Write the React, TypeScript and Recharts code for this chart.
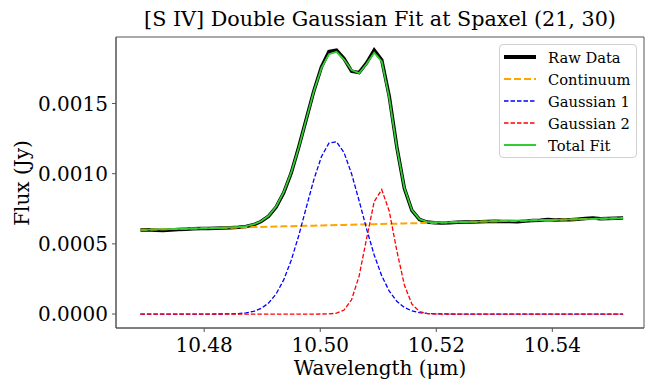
import { LineChart, Line, XAxis, YAxis, Legend, ReferenceArea } from 'recharts';

const wavelength = [
  10.469, 10.4703, 10.4716, 10.4729, 10.4742, 10.4755, 10.4768, 10.4781, 10.4794, 10.4807,
  10.482, 10.4833, 10.4846, 10.4859, 10.4872, 10.4885, 10.4898, 10.4911, 10.4924, 10.4937,
  10.495, 10.4963, 10.4976, 10.4989, 10.5002, 10.5015, 10.5028, 10.5041, 10.5054, 10.5067,
  10.508, 10.5093, 10.5106, 10.5119, 10.5132, 10.5145, 10.5158, 10.5171, 10.5184, 10.5197,
  10.521, 10.5223, 10.5236, 10.5249, 10.5262, 10.5275, 10.5288, 10.5301, 10.5314, 10.5327,
  10.534, 10.5353, 10.5366, 10.5379, 10.5392, 10.5405, 10.5418, 10.5431, 10.5444, 10.5457,
  10.547, 10.5483, 10.5496, 10.5509, 10.5522,
];

const rawFlux = [
  0.000598, 0.0006, 0.000597, 0.000595, 0.000598, 0.000603, 0.000605, 0.000607, 0.000609, 0.00061,
  0.000611, 0.000613, 0.000614, 0.000618, 0.000624, 0.000636, 0.000659, 0.000697, 0.000762, 0.000864,
  0.001005, 0.00119, 0.00139, 0.00159, 0.00176, 0.00187, 0.00188, 0.00182, 0.00173, 0.00172,
  0.00179, 0.00188, 0.00181, 0.00155, 0.00119, 0.000895, 0.000738, 0.000674, 0.000655, 0.000651,
  0.000649, 0.000651, 0.000654, 0.000656, 0.000656, 0.000658, 0.00066, 0.000661, 0.00066, 0.000659,
  0.000657, 0.000662, 0.000666, 0.000669, 0.000674, 0.00067, 0.000672, 0.000672, 0.000676, 0.00068,
  0.000685, 0.000679, 0.000681, 0.000683, 0.000684,
];

const continuum = [
  0.0006, 0.0006013, 0.0006026, 0.0006039, 0.0006052, 0.0006065, 0.0006078, 0.0006091, 0.0006104, 0.0006117,
  0.000613, 0.0006143, 0.0006156, 0.0006169, 0.0006182, 0.0006195, 0.0006208, 0.0006221, 0.0006234, 0.0006247,
  0.000626, 0.0006273, 0.0006286, 0.0006299, 0.0006312, 0.0006325, 0.0006338, 0.0006351, 0.0006364, 0.0006377,
  0.000639, 0.0006403, 0.0006416, 0.0006429, 0.0006442, 0.0006455, 0.0006468, 0.0006481, 0.0006494, 0.0006507,
  0.000652, 0.0006533, 0.0006546, 0.0006559, 0.0006572, 0.0006585, 0.0006598, 0.0006611, 0.0006624, 0.0006637,
  0.000665, 0.0006663, 0.0006676, 0.0006689, 0.0006702, 0.0006715, 0.0006728, 0.0006741, 0.0006754, 0.0006767,
  0.000678, 0.0006793, 0.0006806, 0.0006819, 0.0006832,
];

const gaussian1 = [
  0, 0, 0, 0, 0, 0, 0, 0, 0, 0,
  0.0000001, 0.0000004, 0.0000013, 0.0000033, 0.0000082, 0.0000188, 0.0000398, 0.0000784, 0.0001433, 0.0002431,
  0.0003829, 0.0005599, 0.0007601, 0.000958, 0.0011209, 0.0012178, 0.0012282, 0.0011501, 0.0009999, 0.0008071,
  0.0006048, 0.0004207, 0.0002718, 0.000163, 0.0000907, 0.0000469, 0.0000225, 0.00001, 0.0000041, 0.0000016,
  0.0000006, 0.0000002, 0, 0, 0, 0, 0, 0, 0, 0,
  0, 0, 0, 0, 0, 0, 0, 0, 0, 0,
  0, 0, 0, 0, 0,
];

const gaussian2 = [
  0, 0, 0, 0, 0, 0, 0, 0, 0, 0,
  0, 0, 0, 0, 0, 0, 0, 0, 0, 0,
  0, 0, 0, 0, 0.0000001, 0.0000009, 0.0000059, 0.0000284, 0.0001016, 0.0002712,
  0.0005398, 0.0008013, 0.0008869, 0.0007321, 0.0004506, 0.0002069, 0.0000708, 0.0000181, 0.0000034, 0.0000005,
  0, 0, 0, 0, 0, 0, 0, 0, 0, 0,
  0, 0, 0, 0, 0, 0, 0, 0, 0, 0,
  0, 0, 0, 0, 0,
];

const totalFit = [
  0.0006, 0.0006013, 0.0006026, 0.0006039, 0.0006052, 0.0006065, 0.0006078, 0.0006091, 0.0006104, 0.0006117,
  0.0006131, 0.0006147, 0.0006169, 0.0006202, 0.0006264, 0.0006383, 0.0006606, 0.0007005, 0.0007667, 0.0008678,
  0.0010089, 0.0011872, 0.0013887, 0.0015879, 0.0017522, 0.0018512, 0.0018679, 0.0018136, 0.0017379, 0.001716,
  0.0017836, 0.0018623, 0.0018003, 0.001538, 0.0011855, 0.0008993, 0.0007401, 0.0006762, 0.0006569, 0.0006528,
  0.0006526, 0.0006535, 0.0006546, 0.0006559, 0.0006572, 0.0006585, 0.0006598, 0.0006611, 0.0006624, 0.0006637,
  0.000665, 0.0006663, 0.0006676, 0.0006689, 0.0006702, 0.0006715, 0.0006728, 0.0006741, 0.0006754, 0.0006767,
  0.000678, 0.0006793, 0.0006806, 0.0006819, 0.0006832,
];

const xTicks = [10.48, 10.5, 10.52, 10.54];
const yTicks = [0, 0.0005, 0.001, 0.0015];
const xDomain = [10.4648, 10.5558];
const yDomain = [-0.0000995, 0.001974];

const data = wavelength.map((x, i) => ({
  x,
  raw: rawFlux[i],
  cont: continuum[i],
  g1: gaussian1[i],
  g2: gaussian2[i],
  total: totalFit[i],
}));

const FONT = '"DejaVu Serif", serif';
const SPINE = '#555';

const legendItems = [
  { label: 'Raw Data', color: '#000000', width: 4, dash: undefined },
  { label: 'Continuum', color: '#FFA500', width: 2, dash: '7 3' },
  { label: 'Gaussian 1', color: '#0000FF', width: 1.4, dash: '4.5 2' },
  { label: 'Gaussian 2', color: '#FF0000', width: 1.4, dash: '4.5 2' },
  { label: 'Total Fit', color: '#32CD32', width: 2, dash: undefined },
];

const FitLegend = () => (
  <div
    style={{
      width: 138,
      height: 114,
      boxSizing: 'border-box',
      border: '1px solid #d0d0d0',
      borderRadius: 4,
      background: 'rgba(255,255,255,0.8)',
      paddingTop: 1,
      fontFamily: FONT,
      fontSize: 14.7,
      color: '#000',
    }}
  >
    {legendItems.map((it) => (
      <div key={it.label} style={{ display: 'flex', alignItems: 'center', height: 22 }}>
        <svg width={44} height={22} style={{ marginLeft: 4, flex: 'none' }}>
          <line
            x1={0}
            x2={32}
            y1={11}
            y2={11}
            stroke={it.color}
            strokeWidth={it.width}
            strokeDasharray={it.dash}
          />
        </svg>
        <span style={{ whiteSpace: 'nowrap' }}>{it.label}</span>
      </div>
    ))}
  </div>
);

export default function App() {
  return (
    <div style={{ position: 'absolute', left: 0, top: 0, width: 646, height: 380, background: '#fff' }}>
      <LineChart
        width={646}
        height={380}
        data={data}
        margin={{ top: 37, right: 2, bottom: 7, left: 0 }}
      >
        <XAxis
          dataKey="x"
          type="number"
          domain={xDomain}
          allowDataOverflow
          ticks={xTicks}
          tickFormatter={(v: number) => v.toFixed(2)}
          height={45}
          tickSize={4}
          tickMargin={6}
          stroke={SPINE}
          tick={{ fill: '#000', fontSize: 20, fontFamily: FONT }}
        />
        <YAxis
          type="number"
          domain={yDomain}
          allowDataOverflow
          ticks={yTicks}
          tickFormatter={(v: number) => v.toFixed(4)}
          width={116}
          tickSize={4}
          tickMargin={4}
          stroke={SPINE}
          tick={{ fill: '#000', fontSize: 20, fontFamily: FONT }}
        />
        {/* frame round the plot area, like the matplotlib spines */}
        <ReferenceArea
          x1={xDomain[0]}
          x2={xDomain[1]}
          y1={yDomain[0]}
          y2={yDomain[1]}
          fill="none"
          stroke={SPINE}
          strokeWidth={1}
          ifOverflow="visible"
        />
        <Line dataKey="raw" stroke="#000000" strokeWidth={3.5} dot={false} activeDot={false} isAnimationActive={false} />
        <Line dataKey="cont" stroke="#FFA500" strokeWidth={2} strokeDasharray="7 3" dot={false} activeDot={false} isAnimationActive={false} />
        <Line dataKey="g1" stroke="#0000FF" strokeWidth={1.3} strokeDasharray="4.5 2" dot={false} activeDot={false} isAnimationActive={false} />
        <Line dataKey="g2" stroke="#FF0000" strokeWidth={1.3} strokeDasharray="4.5 2" dot={false} activeDot={false} isAnimationActive={false} />
        <Line dataKey="total" stroke="#32CD32" strokeWidth={1.8} dot={false} activeDot={false} isAnimationActive={false} />
        <Legend
          layout="horizontal"
          verticalAlign="middle"
          align="center"
          content={() => <FitLegend />}
          wrapperStyle={{ position: 'absolute', left: 499, top: 44, width: 138, height: 114 }}
        />
      </LineChart>
      <svg
        width={646}
        height={380}
        style={{ position: 'absolute', left: 0, top: 0, pointerEvents: 'none' }}
        fontFamily={FONT}
      >
        <text x={380} y={26} textAnchor="middle" fontSize={20.7} fill="#000">
          [S IV] Double Gaussian Fit at Spaxel (21, 30)
        </text>
        <text x={380} y={375} textAnchor="middle" fontSize={20} fill="#000">
          Wavelength (μm)
        </text>
        <text transform="translate(28.5,183) rotate(-90)" textAnchor="middle" fontSize={20} fill="#000">
          Flux (Jy)
        </text>
      </svg>
    </div>
  );
}
